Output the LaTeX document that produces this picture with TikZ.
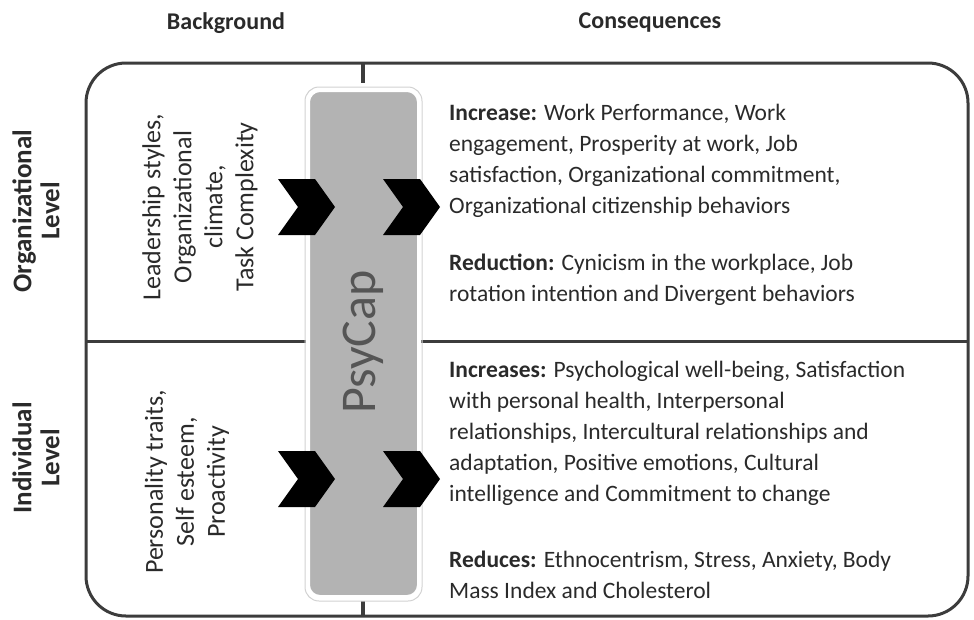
\documentclass[tikz,border=0pt]{standalone}
\usepackage{fontspec}
\setmainfont{Carlito}
\definecolor{txt}{HTML}{2A2A2A}
\definecolor{frame}{HTML}{3C3C3C}
\definecolor{psyfill}{HTML}{B3B3B3}
\definecolor{psytext}{HTML}{555555}
\tikzset{
  body/.style={text=txt, font=\fontsize{23.5}{31}\selectfont, inner sep=0pt, align=left},
  head/.style={text=txt, font=\fontsize{24}{28}\selectfont\bfseries, inner sep=0pt, align=center},
  level/.style={text=txt, font=\fontsize{27}{28}\selectfont\bfseries, inner sep=0pt, align=center, rotate=90},
  side/.style={text=txt, font=\fontsize{26}{31}\selectfont, inner sep=0pt, align=center, rotate=90},
  chev/.style={fill=black},
  psybox/.style={fill=psyfill, draw=white, line width=4pt, rounded corners=12pt, minimum width=111pt, minimum height=507pt, inner sep=0pt},
}
\begin{document}
\begin{tikzpicture}[x=1pt,y=-1pt]
\useasboundingbox (0,0) rectangle (974,619);
% frame
\draw[frame, line width=3pt, rounded corners=40pt] (86,63) rectangle (968,616);
\draw[frame, line width=3pt] (86,341) -- (968,341);
\draw[frame, line width=4.5pt] (363,63) -- (363,83);
\draw[frame, line width=4.5pt] (363,601) -- (363,616);
% headings
\node[head] (bg) at (226,23) {Background};
\node[head] (cons) at (650,23) {Consequences};
\node[level] (org) at (36,211) {Organizational\\Level};
\node[level] (ind) at (36,458) {Individual\\Level};
% PsyCap
\draw[black!18, line width=1pt, rounded corners=14pt] (305,87) rectangle (422,601);
\node[psybox] (psy) at (363.5,343.5) {};
\node[rotate=90, text=psytext, font=\fontsize{50}{50}\selectfont] (psyl) at (363,342) {PsyCap};
% left texts
\node[side] (bgorg) at (200,207) {Leadership styles,\\Organizational\\climate,\\Task Complexity};
\node[side] (bgind) at (187,482) {Personality traits,\\Self esteem,\\Proactivity};
% chevrons
\coordinate (c1) at (278,179);
\coordinate (c2) at (383,179);
\coordinate (c3) at (278,451);
\coordinate (c4) at (383,451);
\foreach \c in {c1,c2,c3,c4}{
  \fill[chev] (\c) -- ++(37,0) -- ++(20,28) -- ++(-20,28) -- ++(-37,0) -- ++(20,-28) -- cycle;
}
% right texts (anchored at the baseline of their last line)
\node[body, anchor=base west] (inc) at (449,213) {\textbf{Increase:} Work Performance, Work\\engagement, Prosperity at work, Job\\satisfaction, Organizational commitment,\\Organizational citizenship behaviors};
\node[body, anchor=base west] (red) at (449,301) {\textbf{Reduction:} Cynicism in the workplace, Job\\rotation intention and Divergent behaviors};
\node[body, anchor=base west] (incs) at (449,501) {\textbf{Increases:} Psychological well-being, Satisfaction\\with personal health, Interpersonal\\relationships, Intercultural relationships and\\adaptation, Positive emotions, Cultural\\intelligence and Commitment to change};
\node[body, anchor=base west] (reds) at (449,598) {\textbf{Reduces:} Ethnocentrism, Stress, Anxiety, Body\\Mass Index and Cholesterol};
\end{tikzpicture}
\end{document}
